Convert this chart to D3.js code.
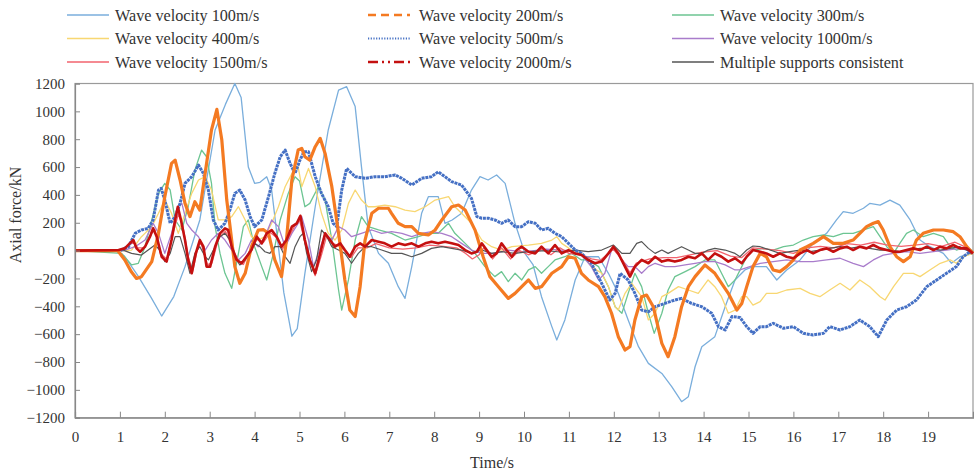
<!DOCTYPE html>
<html>
<head>
<meta charset="utf-8">
<script src="https://cdn.jsdelivr.net/npm/d3@7"></script>
<style>
  html, body { margin: 0; padding: 0; background: #fff; }
  svg { display: block; font-family: "Liberation Serif", "Times New Roman", serif; }
</style>
</head>
<body>
<svg id="chart" width="974" height="474"></svg>
<script>
// Axis ticks
const xTicks = d3.range(0, 20, 1);
const yTicks = d3.range(-1200, 1201, 200);

// Axial force (kN) against time (s) for each apparent wave velocity
const wave100 = [[0,0],[0.9,0],[1.1,-40],[1.4,-180],[1.7,-340],[1.93,-470],[2.2,-330],[2.45,-115],[2.78,220],[3.12,866],[3.35,1050],[3.56,1200],[3.7,1100],[3.86,600],[4.0,483],[4.12,490],[4.27,530],[4.38,435],[4.53,28],[4.65,-300],[4.83,-615],[4.95,-560],[5.12,-163],[5.35,315],[5.64,866],[5.87,1153],[6.05,1177],[6.24,1034],[6.38,603],[6.53,172],[6.76,-20],[6.98,-91],[7.2,-259],[7.35,-343],[7.5,-115],[7.72,268],[7.87,387],[8.09,387],[8.24,196],[8.4,220],[8.61,268],[8.83,435],[9.02,531],[9.2,507],[9.39,543],[9.58,483],[9.8,196],[10.02,-20],[10.2,-100],[10.39,-331],[10.62,-546],[10.73,-642],[10.91,-498],[11.14,-211],[11.36,-44],[11.66,-44],[11.88,-163],[12.1,-307],[12.32,-498],[12.55,-690],[12.77,-810],[13.07,-882],[13.29,-977],[13.51,-1085],[13.66,-1049],[13.81,-834],[13.96,-690],[14.25,-618],[14.48,-403],[14.7,-211],[14.92,-139],[15.1,-115],[15.4,-115],[15.63,-211],[15.85,-139],[16.15,-67],[16.44,52],[16.74,124],[16.96,220],[17.11,280],[17.33,268],[17.56,304],[17.7,339],[17.93,327],[18.15,363],[18.37,327],[18.6,220],[18.82,76],[19.04,28],[19.34,-20],[19.52,-91],[19.71,-44],[20,-20]];

const wave200 = [[0,0],[0.95,0],[1.11,-67],[1.25,-150],[1.37,-200],[1.48,-187],[1.71,-79],[1.86,124],[2.0,387],[2.15,626],[2.23,650],[2.34,507],[2.45,339],[2.56,244],[2.67,351],[2.78,291],[2.93,626],[3.04,866],[3.16,1014],[3.27,794],[3.38,363],[3.45,180],[3.56,-115],[3.67,-235],[3.79,-163],[3.93,28],[4.08,147],[4.2,150],[4.31,124],[4.45,-67],[4.6,-187],[4.71,76],[4.83,507],[4.97,722],[5.05,734],[5.12,674],[5.23,650],[5.35,746],[5.46,806],[5.57,698],[5.72,459],[5.87,124],[6.01,-211],[6.12,-427],[6.24,-474],[6.35,-259],[6.46,76],[6.61,268],[6.76,304],[6.98,304],[7.05,268],[7.2,196],[7.35,172],[7.5,172],[7.65,124],[7.87,112],[8.02,148],[8.17,220],[8.39,315],[8.54,327],[8.69,291],[8.91,147],[9.09,-44],[9.24,-187],[9.43,-259],[9.65,-343],[9.8,-307],[9.95,-259],[10.1,-211],[10.25,-271],[10.39,-259],[10.62,-163],[10.84,-115],[10.99,-44],[11.14,-55],[11.28,-163],[11.43,-211],[11.66,-259],[11.8,-331],[11.95,-450],[12.1,-618],[12.25,-714],[12.36,-690],[12.47,-498],[12.62,-331],[12.73,-319],[12.88,-403],[13.07,-666],[13.21,-762],[13.36,-618],[13.51,-403],[13.66,-259],[13.81,-187],[14.03,-103],[14.25,-163],[14.4,-235],[14.55,-307],[14.74,-427],[14.85,-380],[14.96,-259],[15.1,-115],[15.26,-20],[15.4,-44],[15.55,-139],[15.7,-151],[15.85,-115],[16.0,-67],[16.15,4],[16.3,28],[16.44,52],[16.67,100],[16.89,52],[17.11,52],[17.33,76],[17.48,124],[17.63,172],[17.78,196],[17.89,208],[18.0,148],[18.15,28],[18.3,-44],[18.45,-79],[18.6,-44],[18.74,76],[18.89,124],[19.12,148],[19.34,148],[19.56,136],[19.71,100],[19.86,28],[20,-20]];

const wave300 = [[0,0],[1.04,-20],[1.26,-103],[1.41,-91],[1.56,28],[1.71,220],[1.86,411],[2.0,483],[2.12,435],[2.23,220],[2.38,148],[2.52,315],[2.67,578],[2.82,722],[2.93,674],[3.04,483],[3.12,172],[3.23,-20],[3.34,-163],[3.49,-271],[3.64,-20],[3.75,172],[3.86,220],[4.0,28],[4.16,-115],[4.27,-211],[4.42,-20],[4.57,220],[4.75,411],[4.9,531],[5.0,500],[5.12,315],[5.23,339],[5.42,459],[5.57,363],[5.72,76],[5.87,-283],[5.94,-427],[6.09,-211],[6.24,76],[6.38,244],[6.53,172],[6.76,148],[7.05,124],[7.35,76],[7.65,100],[7.87,124],[8.09,124],[8.32,196],[8.46,124],[8.69,52],[8.91,-20],[9.13,-115],[9.35,-187],[9.5,-151],[9.65,-223],[9.8,-163],[9.95,-211],[10.1,-139],[10.25,-115],[10.39,-163],[10.54,-115],[10.69,-67],[10.91,-44],[11.06,-20],[11.28,-67],[11.43,-67],[11.66,-115],[11.88,-259],[12.03,-403],[12.18,-450],[12.32,-307],[12.47,-163],[12.62,-259],[12.77,-450],[12.9,-594],[13.07,-450],[13.21,-283],[13.36,-187],[13.59,-151],[13.81,-115],[14.03,-67],[14.25,-67],[14.4,-163],[14.55,-259],[14.7,-211],[14.85,-115],[14.96,-44],[15.1,4],[15.33,16],[15.55,4],[15.78,28],[16.0,40],[16.22,76],[16.44,100],[16.67,112],[16.89,100],[17.11,124],[17.33,124],[17.56,148],[17.78,172],[17.93,100],[18.08,28],[18.23,-20],[18.37,52],[18.52,124],[18.67,148],[18.89,100],[19.12,124],[19.34,100],[19.49,28],[19.63,4],[19.86,28],[20,-5]];

const wave400 = [[0,0],[1.1,0],[1.26,4],[1.48,100],[1.71,172],[1.86,268],[2.0,363],[2.15,268],[2.3,124],[2.45,268],[2.6,411],[2.75,507],[2.9,531],[3.04,435],[3.19,220],[3.34,220],[3.49,244],[3.64,315],[3.79,220],[3.93,100],[4.08,76],[4.23,100],[4.38,196],[4.53,315],[4.68,459],[4.83,554],[4.97,602],[5.05,459],[5.2,590],[5.35,459],[5.49,268],[5.64,124],[5.79,76],[5.94,148],[6.09,339],[6.24,435],[6.38,363],[6.53,315],[6.68,315],[6.9,327],[7.13,315],[7.35,291],[7.57,280],[7.8,315],[8.02,363],[8.17,375],[8.32,387],[8.46,315],[8.61,268],[8.83,196],[9.06,76],[9.28,28],[9.5,4],[9.73,28],[10.1,40],[10.39,52],[10.62,76],[10.73,100],[10.84,52],[11.06,4],[11.28,-20],[11.5,-115],[11.73,-163],[11.88,-259],[12.03,-403],[12.1,-427],[12.25,-307],[12.4,-235],[12.62,-331],[12.77,-498],[12.92,-450],[13.07,-331],[13.21,-307],[13.44,-259],[13.66,-283],[13.88,-307],[14.1,-211],[14.25,-259],[14.4,-331],[14.55,-450],[14.7,-427],[14.85,-330],[14.96,-330],[15.1,-391],[15.26,-367],[15.4,-307],[15.63,-307],[15.85,-283],[16.15,-271],[16.37,-307],[16.59,-331],[16.81,-283],[17.04,-235],[17.26,-283],[17.48,-211],[17.7,-259],[17.93,-331],[18.04,-355],[18.23,-259],[18.45,-163],[18.67,-163],[18.82,-187],[19.04,-139],[19.27,-91],[19.49,-67],[19.63,-91],[19.78,-44],[20,-20]];

const wave500 = [[0,0],[1.0,0],[1.19,28],[1.34,124],[1.48,148],[1.63,160],[1.74,220],[1.86,435],[1.92,447],[2.0,363],[2.12,196],[2.23,244],[2.34,339],[2.45,483],[2.6,531],[2.75,614],[2.86,554],[2.97,435],[3.08,220],[3.19,148],[3.34,196],[3.45,291],[3.56,411],[3.67,435],[3.79,363],[3.9,244],[4.0,172],[4.16,220],[4.31,387],[4.45,554],[4.57,674],[4.68,722],[4.79,626],[4.9,554],[5.01,650],[5.1,710],[5.2,710],[5.23,674],[5.35,531],[5.49,411],[5.64,315],[5.75,196],[5.83,172],[5.94,435],[6.05,590],[6.24,531],[6.46,519],[6.68,531],[6.9,531],[7.13,543],[7.28,519],[7.5,471],[7.72,519],[7.94,531],[8.09,566],[8.24,531],[8.39,495],[8.61,471],[8.83,375],[8.95,244],[9.06,232],[9.21,232],[9.35,220],[9.5,196],[9.65,220],[9.8,172],[9.95,172],[10.1,208],[10.25,196],[10.39,148],[10.54,160],[10.69,124],[10.84,100],[10.99,52],[11.14,4],[11.28,-20],[11.5,-91],[11.73,-235],[11.91,-355],[12.03,-307],[12.14,-163],[12.32,-211],[12.47,-307],[12.62,-427],[12.77,-440],[12.92,-403],[13.14,-379],[13.36,-355],[13.51,-343],[13.73,-379],[13.96,-403],[14.18,-450],[14.33,-546],[14.48,-570],[14.63,-474],[14.81,-480],[14.96,-546],[15.1,-594],[15.26,-546],[15.4,-546],[15.55,-522],[15.78,-558],[16.0,-546],[16.22,-594],[16.44,-606],[16.67,-594],[16.81,-546],[17.04,-570],[17.26,-546],[17.48,-498],[17.7,-546],[17.89,-618],[18.08,-498],[18.3,-427],[18.52,-403],[18.74,-355],[18.97,-259],[19.19,-211],[19.41,-163],[19.63,-115],[19.78,-44],[19.93,-8],[20,-20]];

const wave1000 = [[0,0],[1.11,4],[1.34,28],[1.56,76],[1.74,196],[1.86,124],[2.0,-20],[2.15,124],[2.3,315],[2.38,339],[2.49,196],[2.6,148],[2.75,100],[2.9,4],[3.04,76],[3.19,124],[3.34,76],[3.49,4],[3.64,-67],[3.79,-20],[3.93,76],[4.08,28],[4.23,100],[4.38,220],[4.53,172],[4.68,28],[4.83,124],[4.97,196],[5.05,244],[5.2,76],[5.31,-115],[5.42,-20],[5.57,124],[5.72,76],[5.87,172],[6.01,148],[6.16,100],[6.38,124],[6.61,148],[6.83,124],[7.05,136],[7.28,124],[7.5,100],[7.72,124],[7.94,136],[8.17,124],[8.39,100],[8.61,52],[8.83,4],[9.06,-20],[9.35,-20],[9.65,4],[10.0,-10],[10.5,10],[11.0,0],[11.28,-32],[11.5,-115],[11.66,-211],[11.8,-163],[11.95,4],[12.03,4],[12.18,-67],[12.32,-115],[12.47,-115],[12.62,-163],[12.77,-115],[12.92,-91],[13.14,-115],[13.36,-115],[13.59,-103],[13.81,-91],[14.03,-79],[14.25,-79],[14.48,-103],[14.7,-139],[14.81,-139],[15.03,-115],[15.26,-91],[15.55,-79],[15.85,-67],[16.15,-79],[16.44,-79],[16.74,-67],[17.04,-55],[17.33,-91],[17.56,-115],[17.78,-67],[18.0,-32],[18.23,-20],[18.52,-8],[18.82,-20],[19.12,-8],[19.41,4],[19.71,16],[20,-8]];

const wave1500 = [[0,0],[1.0,4],[1.15,30],[1.3,60],[1.4,20],[1.55,20],[1.7,120],[1.78,150],[1.9,-20],[2.04,-60],[2.18,120],[2.3,260],[2.4,180],[2.52,-40],[2.62,-150],[2.72,0],[2.8,60],[2.95,-100],[3.05,-90],[3.2,90],[3.35,140],[3.5,20],[3.65,-80],[3.75,-100],[3.9,0],[4.05,80],[4.2,60],[4.35,130],[4.5,90],[4.62,10],[4.75,90],[4.9,180],[5.0,220],[5.12,60],[5.25,-90],[5.35,-180],[5.5,-20],[5.6,100],[5.75,50],[5.9,30],[6.05,-10],[6.15,-50],[6.3,20],[6.5,20],[6.7,50],[7.0,20],[7.3,10],[7.6,20],[7.9,40],[8.2,30],[8.5,20],[8.7,-20],[8.85,-60],[9.0,-30],[9.1,20],[9.3,-60],[9.5,20],[9.7,-60],[9.9,0],[10.1,-30],[10.4,10],[10.6,-30],[10.8,20],[11.0,-20],[11.3,-30],[11.5,-60],[11.7,-70],[11.99,10],[12.2,-70],[12.36,-160],[12.5,-90],[12.8,-60],[13.1,-50],[13.4,-50],[13.7,-30],[14.0,-10],[14.3,0],[14.6,-40],[14.85,-50],[15.1,20],[15.4,10],[15.7,0],[16.0,-20],[16.3,20],[16.6,30],[16.9,20],[17.2,50],[17.5,40],[17.8,60],[18.1,40],[18.4,30],[18.7,40],[19.0,50],[19.3,30],[19.6,60],[19.8,30],[20,-10]];

const wave2000 = [[0,0],[0.97,4],[1.11,16],[1.22,52],[1.3,76],[1.37,16],[1.45,-8],[1.56,28],[1.67,100],[1.74,160],[1.82,100],[1.93,-44],[2.04,-79],[2.15,76],[2.23,220],[2.29,315],[2.36,220],[2.45,76],[2.52,-67],[2.6,-163],[2.69,-20],[2.78,76],[2.86,28],[2.93,-115],[3.01,-115],[3.12,28],[3.23,124],[3.34,160],[3.41,148],[3.49,28],[3.6,-67],[3.71,-91],[3.82,-44],[3.93,4],[4.05,100],[4.16,52],[4.27,124],[4.38,148],[4.49,100],[4.6,28],[4.71,76],[4.83,172],[4.94,196],[5.02,250],[5.12,76],[5.23,-67],[5.35,-163],[5.46,-20],[5.57,124],[5.68,76],[5.79,28],[5.91,52],[6.01,4],[6.12,-44],[6.24,28],[6.35,52],[6.46,28],[6.61,76],[6.76,64],[6.9,52],[7.05,28],[7.2,52],[7.35,40],[7.5,52],[7.65,28],[7.8,52],[7.94,64],[8.09,52],[8.24,64],[8.39,52],[8.54,40],[8.69,4],[8.83,-20],[8.95,-8],[9.06,52],[9.17,4],[9.28,-44],[9.39,-20],[9.5,52],[9.61,4],[9.73,-44],[9.84,4],[9.95,28],[10.1,-8],[10.25,-20],[10.39,28],[10.54,-20],[10.69,40],[10.84,-20],[10.99,4],[11.14,-20],[11.28,-32],[11.43,-67],[11.58,-91],[11.73,-79],[11.88,-20],[11.99,28],[12.1,-20],[12.21,-91],[12.36,-187],[12.47,-115],[12.62,-67],[12.77,-91],[12.92,-44],[13.07,-79],[13.21,-67],[13.36,-79],[13.51,-67],[13.66,-44],[13.81,-55],[13.96,-20],[14.1,-67],[14.25,-20],[14.4,-44],[14.55,-79],[14.7,-55],[14.85,-91],[14.96,-44],[15.1,4],[15.26,-8],[15.4,-20],[15.55,-44],[15.7,-20],[15.85,-44],[16.0,-55],[16.15,-20],[16.3,4],[16.44,-20],[16.59,4],[16.74,16],[16.89,-8],[17.04,16],[17.19,28],[17.33,4],[17.48,28],[17.63,16],[17.78,40],[17.93,16],[18.08,4],[18.23,-8],[18.37,-8],[18.52,4],[18.67,16],[18.82,4],[18.97,28],[19.12,4],[19.27,28],[19.41,16],[19.56,40],[19.71,16],[19.86,16],[20,-20]];

const consistent = [[0,0],[1.1,0],[1.26,-20],[1.48,-32],[1.63,4],[1.78,40],[1.89,4],[2.0,-79],[2.12,-20],[2.23,100],[2.34,100],[2.45,-20],[2.56,-163],[2.67,-20],[2.78,28],[2.9,-44],[2.97,-67],[3.12,28],[3.23,100],[3.34,124],[3.45,76],[3.56,-44],[3.67,-103],[3.79,-67],[3.9,4],[4.0,52],[4.12,28],[4.23,-8],[4.34,-20],[4.45,28],[4.57,28],[4.68,-44],[4.79,-91],[4.9,28],[5.01,100],[5.08,124],[5.16,-20],[5.27,-151],[5.38,-67],[5.49,148],[5.61,100],[5.72,28],[5.87,4],[6.01,-20],[6.16,-91],[6.31,-20],[6.46,28],[6.61,28],[6.83,4],[7.05,-20],[7.28,-20],[7.5,-44],[7.72,-20],[7.94,16],[8.17,28],[8.39,16],[8.61,4],[8.83,-20],[9.06,4],[9.28,-20],[9.5,-8],[9.8,-20],[10.1,-8],[10.5,0],[10.8,-10],[11.14,4],[11.43,-8],[11.73,4],[11.99,40],[12.18,-20],[12.36,-20],[12.51,52],[12.62,64],[12.77,16],[12.92,-20],[13.07,4],[13.21,-20],[13.36,4],[13.51,28],[13.66,4],[13.81,-20],[13.96,-20],[14.1,4],[14.25,16],[14.48,4],[14.7,-20],[14.81,-44],[14.96,4],[15.1,33],[15.26,28],[15.48,4],[15.7,-20],[15.92,-8],[16.15,4],[16.37,-8],[16.59,4],[16.81,16],[17.04,28],[17.26,16],[17.48,28],[17.7,16],[17.93,4],[18.15,4],[18.37,-8],[18.6,4],[18.82,16],[19.04,16],[19.27,4],[19.49,16],[19.71,28],[20,-20]];

// Series styling and legend placement
const series = [
  { name: "Wave velocity 100m/s",  data: wave100,  color: "#7aaedc", width: 1.3, dash: null,    legendDash: null,  legendWidth: 1.4, col: 0, row: 0 },
  { name: "Wave velocity 200m/s",  data: wave200,  color: "#f47a22", width: 3.2, dash: null,    legendDash: "8,5", legendWidth: 2.6, col: 1, row: 0 },
  { name: "Wave velocity 300m/s",  data: wave300,  color: "#6cc592", width: 1.3, dash: null,    legendDash: null,  legendWidth: 1.4, col: 2, row: 0 },
  { name: "Wave velocity 400m/s",  data: wave400,  color: "#f8d772", width: 1.3, dash: null,    legendDash: null,  legendWidth: 1.4, col: 0, row: 1 },
  { name: "Wave velocity 500m/s",  data: wave500,  color: "#4570c4", width: 3.0, dash: "3,0.8", legendDash: "1.2,1.5", legendWidth: 1.8, col: 1, row: 1 },
  { name: "Wave velocity 1000m/s", data: wave1000, color: "#a97ccb", width: 1.3, dash: null,    legendDash: null,  legendWidth: 1.4, col: 2, row: 1 },
  { name: "Wave velocity 1500m/s", data: wave1500, color: "#f2636e", width: 1.3, dash: null,    legendDash: null,  legendWidth: 1.4, col: 0, row: 2 },
  { name: "Wave velocity 2000m/s", data: wave2000, color: "#c41010", width: 2.6, dash: null,    legendDash: "10,4,2,4,2,4", legendWidth: 2.6, col: 1, row: 2 },
  { name: "Multiple supports consistent", data: consistent, color: "#555555", width: 1.2, dash: null, legendDash: null, legendWidth: 1.4, col: 2, row: 2 }
];
const drawOrder = [0, 2, 3, 5, 6, 8, 4, 1, 7];

const svg = d3.select("#chart");
const margin = { left: 75, right: 1, top: 83.5, bottom: 56.3 };
const W = 974, H = 474;
const x = d3.scaleLinear().domain([0, 20]).range([margin.left, W - margin.right]);
const y = d3.scaleLinear().domain([-1200, 1200]).range([H - margin.bottom, margin.top]);

// Plot frame
svg.append("rect")
  .attr("x", x(0)).attr("y", y(1200))
  .attr("width", x(20) - x(0)).attr("height", y(-1200) - y(1200))
  .attr("fill", "none").attr("stroke", "#9a9a9a").attr("stroke-width", 1.2);

// Lines
const line = d3.line().x(d => x(d[0])).y(d => y(d[1]));
const plot = svg.append("g");
drawOrder.forEach(i => {
  const s = series[i];
  plot.append("path")
    .attr("d", line(s.data))
    .attr("fill", "none")
    .attr("stroke", s.color)
    .attr("stroke-width", s.width)
    .attr("stroke-linejoin", "round")
    .attr("stroke-dasharray", s.dash);
});

// Axes with inward ticks
const xAxis = d3.axisBottom(x).tickValues(xTicks).tickSize(-6).tickPadding(14).tickFormat(d3.format("d"));
const gx = svg.append("g").attr("transform", `translate(0,${y(-1200)})`).call(xAxis);
gx.select(".domain").attr("stroke", "#888").attr("stroke-width", 1.2);
gx.selectAll(".tick line").attr("stroke", "#888");
gx.selectAll("text").attr("font-size", 15).attr("fill", "#333").attr("font-family", "Liberation Serif");

const yAxis = d3.axisLeft(y).tickValues(yTicks).tickSize(-5).tickPadding(10).tickFormat(d3.format("d"));
const gy = svg.append("g").attr("transform", `translate(${x(0)},0)`).call(yAxis);
gy.select(".domain").attr("stroke", "#888").attr("stroke-width", 1.2);
gy.selectAll(".tick line").attr("stroke", "#888");
gy.selectAll("text").attr("font-size", 15).attr("fill", "#333").attr("font-family", "Liberation Serif");

// Axis titles
svg.append("text")
  .attr("x", 492).attr("y", 468)
  .attr("text-anchor", "middle").attr("font-size", 16).attr("fill", "#333")
  .text("Time/s");
svg.append("text")
  .attr("transform", "translate(21,215) rotate(-90)")
  .attr("text-anchor", "middle").attr("font-size", 16).attr("fill", "#333")
  .text("Axial force/kN");

// Legend
const colX = [67, 368, 672];
const textX = [115, 419, 720];
const rowY = [15, 38.5, 62];
const legend = svg.append("g");
series.forEach(s => {
  const gx0 = colX[s.col], gy0 = rowY[s.row];
  legend.append("line")
    .attr("x1", gx0).attr("x2", gx0 + 42)
    .attr("y1", gy0).attr("y2", gy0)
    .attr("stroke", s.color)
    .attr("stroke-width", s.legendWidth)
    .attr("stroke-dasharray", s.legendDash);
  legend.append("text")
    .attr("x", textX[s.col]).attr("y", gy0 + 5.5)
    .attr("font-size", 16.2).attr("fill", "#333")
    .text(s.name);
});
</script>
</body>
</html>
